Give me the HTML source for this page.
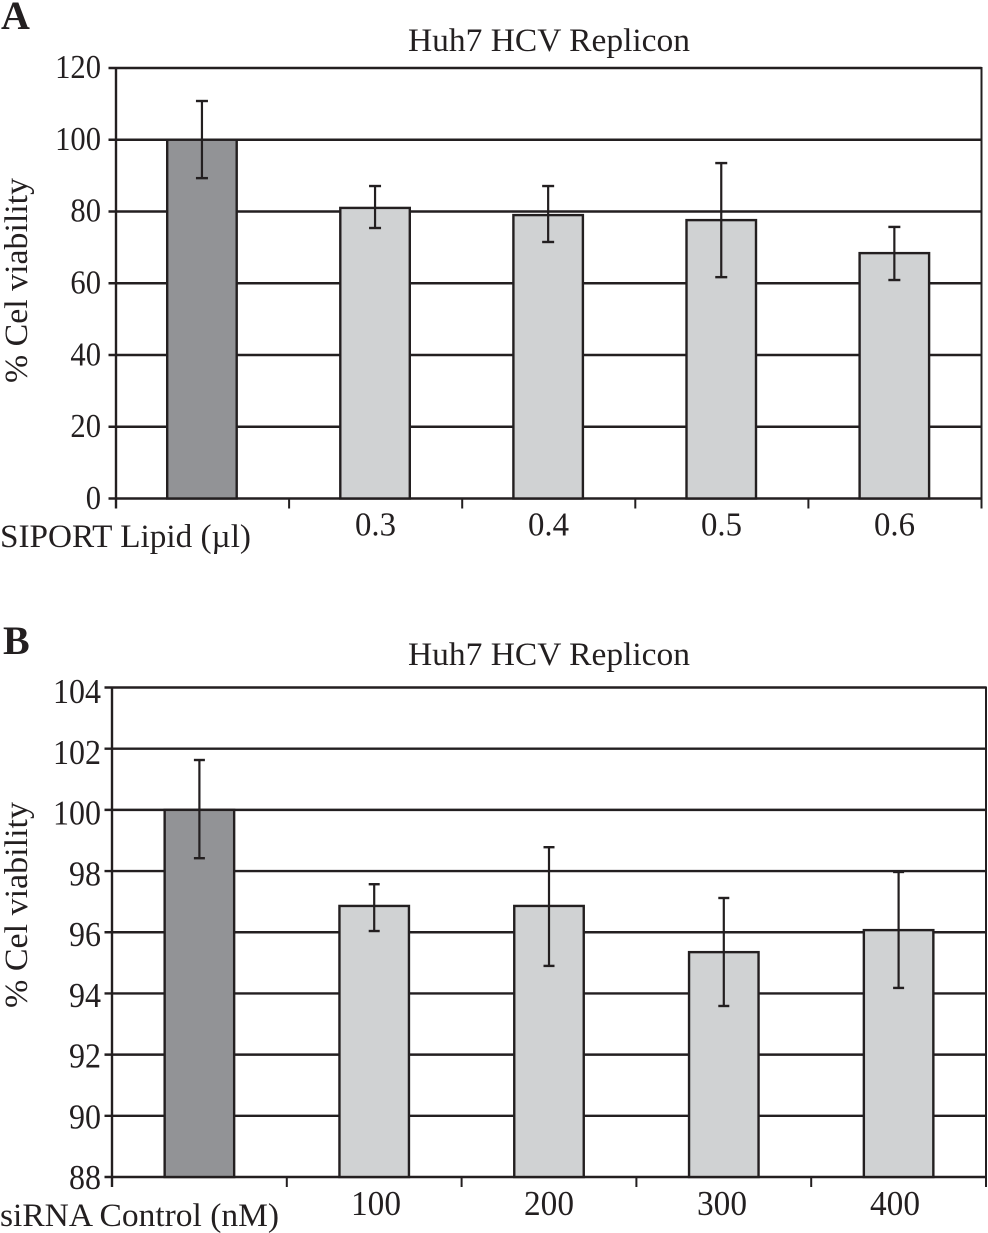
<!DOCTYPE html>
<html lang="en">
<head>
<meta charset="utf-8">
<title>Huh7 HCV Replicon cell viability</title>
<style>
html,body{margin:0;padding:0;background:#fff;width:988px;height:1233px;overflow:hidden}
svg{display:block}
text{font-family:"Liberation Serif",serif;fill:#231f20}
</style>
</head>
<body>
<svg id="figure" width="988" height="1233" viewBox="0 0 988 1233" xmlns="http://www.w3.org/2000/svg">
  <text x="1" y="29" font-size="40" font-weight="bold">A</text>
  <text x="3" y="654" font-size="40" font-weight="bold">B</text>
  <text x="549" y="51" font-size="33" text-anchor="middle" textLength="282" lengthAdjust="spacingAndGlyphs">Huh7 HCV Replicon</text>
  <text x="549" y="665" font-size="33" text-anchor="middle" textLength="282" lengthAdjust="spacingAndGlyphs">Huh7 HCV Replicon</text>
  <text transform="translate(27,383) rotate(-90)" font-size="33" textLength="205" lengthAdjust="spacingAndGlyphs">% Cel viability</text>
  <text transform="translate(27,1008) rotate(-90)" font-size="33" textLength="206" lengthAdjust="spacingAndGlyphs">% Cel viability</text>
  <text x="0" y="547" font-size="33" textLength="251" lengthAdjust="spacingAndGlyphs">SIPORT Lipid (µl)</text>
  <text x="0" y="1226" font-size="33" textLength="279" lengthAdjust="spacingAndGlyphs">siRNA Control (nM)</text>
  <g id="panel-a"></g>
  <g id="panel-b"></g>
</svg>
<script>
const categoriesA = ["", "0.3", "0.4", "0.5", "0.6"];
const valuesA = [100, 81, 79, 77.6, 68.4];
const errorHighA = [110.8, 87.1, 87.1, 93.5, 75.7];
const errorLowA = [89.3, 75.4, 71.5, 61.7, 60.9];
const yTicksA = [0, 20, 40, 60, 80, 100, 120];

const categoriesB = ["", "100", "200", "300", "400"];
const valuesB = [100, 96.86, 96.86, 95.35, 96.07];
const errorHighB = [101.63, 97.57, 98.78, 97.12, 97.97];
const errorLowB = [98.42, 96.04, 94.9, 93.59, 94.18];
const yTicksB = [88, 90, 92, 94, 96, 98, 100, 102, 104];

const INK = "#231f20";
const NS = "http://www.w3.org/2000/svg";

function add(parent, tag, attrs) {
  const el = document.createElementNS(NS, tag);
  for (const k in attrs) el.setAttribute(k, attrs[k]);
  parent.appendChild(el);
  return el;
}

function drawChart(cfg) {
  const root = document.getElementById(cfg.id);
  const yMin = cfg.yTicks[0];
  const yMax = cfg.yTicks[cfg.yTicks.length - 1];
  const y = v => cfg.bottom - (v - yMin) / (yMax - yMin) * (cfg.bottom - cfg.top);
  const band = (cfg.right - cfg.left) / cfg.categories.length;
  const x = i => cfg.left + band * (i + 0.5) + cfg.shift;
  const edge = i => cfg.left + band * i;
  const labelShift = t => cfg.offsetBottom + (cfg.offsetTop - cfg.offsetBottom) * (t - yMin) / (yMax - yMin);

  cfg.yTicks.forEach(t => {
    const line = add(root, "line", {x1: cfg.left - 7.5, x2: cfg.right, y1: y(t), y2: y(t), stroke: INK, "stroke-width": 2.4});
    
    
    const text = String(t);
    const label = add(root, "text", {
      x: 101 - text.length * cfg.digitWidth,
      y: y(t) + labelShift(t),
      "font-size": cfg.fontSize,
      textLength: text.length * cfg.digitWidth,
      lengthAdjust: "spacingAndGlyphs"
    });
    label.textContent = text;
    
    
  });

  const axisY = add(root, "line", {x1: cfg.left, x2: cfg.left, y1: cfg.top - 1, y2: cfg.bottom + 10, stroke: INK, "stroke-width": 2.4});
  
  
  const axisR = add(root, "line", {x1: cfg.right, x2: cfg.right, y1: cfg.top - 1, y2: cfg.bottom + 10, stroke: INK, "stroke-width": 2});
  
  

  for (let i = 1; i < cfg.categories.length; i++) {
    const tick = add(root, "line", {x1: edge(i), x2: edge(i), y1: cfg.bottom, y2: cfg.bottom + 10, stroke: INK, "stroke-width": 2});
    
    
  }

  cfg.categories.forEach((c, i) => {
    const bar = add(root, "rect", {
      x: x(i) - cfg.barWidth / 2,
      y: y(cfg.values[i]),
      width: cfg.barWidth,
      height: y(yMin) - y(cfg.values[i]),
      fill: i === 0 ? "#929396" : "#d0d2d3",
      stroke: INK,
      "stroke-width": 2.4
    });
    
    

    const stem = add(root, "line", {x1: x(i), x2: x(i), y1: y(cfg.high[i]), y2: y(cfg.low[i]), stroke: INK, "stroke-width": 2.2});
    
    
    [cfg.high[i], cfg.low[i]].forEach(v => {
      const cap = add(root, "line", {x1: x(i) - cfg.cap, x2: x(i) + cfg.cap, y1: y(v), y2: y(v), stroke: INK, "stroke-width": 2.4});
      
      
    });

    if (c) {
      const label = add(root, "text", {
        x: cfg.labelCentre + (i - 2) * cfg.labelStep,
        y: cfg.bottom + cfg.labelDrop,
        "font-size": cfg.fontSize,
        "text-anchor": "middle",
        textLength: cfg.labelWidth,
        lengthAdjust: "spacingAndGlyphs"
      });
      label.textContent = c;
      
      
    }
  });
}

drawChart({
  id: "panel-a", left: 116, right: 981.5, top: 68, bottom: 498.5, shift: -0.6, barWidth: 69.5, cap: 6,
  fontSize: 34, digitWidth: 15.3, offsetBottom: 10.5, offsetTop: 10,
  labelCentre: 548.5, labelStep: 173, labelDrop: 37, labelWidth: 41,
  categories: categoriesA, values: valuesA, high: errorHighA, low: errorLowA, yTicks: yTicksA
});
drawChart({
  id: "panel-b", left: 112, right: 986, top: 687.5, bottom: 1177, shift: 0, barWidth: 69.5, cap: 5.5,
  fontSize: 35, digitWidth: 16, offsetBottom: 12, offsetTop: 15.5,
  labelCentre: 549, labelStep: 173, labelDrop: 38, labelWidth: 50,
  categories: categoriesB, values: valuesB, high: errorHighB, low: errorLowB, yTicks: yTicksB
});
</script>
</body>
</html>
